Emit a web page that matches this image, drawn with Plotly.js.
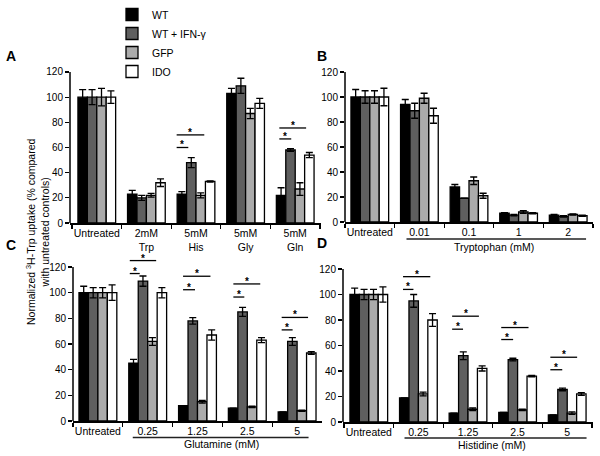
<!DOCTYPE html>
<html><head><meta charset="utf-8">
<script src="https://cdn.plot.ly/plotly-3.0.1.min.js"></script>
<style>html,body{margin:0;padding:0;background:#fff}#chart{width:600px;height:456px}</style>
</head><body><div id="chart"></div>
<script>
// ---- data ----
const seriesNames = ['WT', 'WT + IFN-γ', 'GFP', 'IDO'];
const seriesColors = ['#000000', '#5f5f5f', '#ababab', '#ffffff'];

const catsA = ['Untreated', '2mM<br>Trp', '5mM<br>His', '5mM<br>Gly', '5mM<br>Gln'];
const valsA = [[100, 23, 23, 103, 22], [100, 20, 48, 109, 58], [100, 22, 22, 87, 27], [100, 32, 33, 95, 54]];
const errsA = [[6, 3, 2, 4, 6], [6, 2, 4, 6, 1], [7, 1.5, 2, 4, 5], [5, 3, 0.5, 4, 2]];

const catsB = ['Untreated', '0.01', '0.1', '1', '2'];
const valsB = [[100, 94, 28, 7, 5.5], [100, 89, 19, 5.5, 4.5], [100, 99, 33, 8, 6], [100, 85, 21, 7, 5]];
const errsB = [[6, 4, 2, 0.5, 0.5], [5, 6, 0, 0.5, 0.5], [5, 4, 3, 1, 0.5], [7, 6, 2, 0.5, 0.5]];

const catsC = ['Untreated', '0.25', '1.25', '2.5', '5'];
const valsC = [[100, 45, 12, 10, 7], [100, 109, 78, 85, 62], [100, 62, 15, 11, 8], [100, 100, 67, 63, 53]];
const errsC = [[5, 3, 0, 0, 0], [4, 4, 2.5, 3.5, 3], [4, 3, 1, 0.5, 0.5], [6, 4, 4, 2, 1]];

const catsD = ['Untreated', '0.25', '1.25', '2.5', '5'];
const valsD = [[100, 19, 7, 7.5, 5.5], [100, 95, 52, 49, 25.5], [100, 22, 10, 9.5, 7], [100, 80, 42, 36, 22]];
const errsD = [[5, 0, 0, 0, 0], [4, 5, 3, 1, 1], [4, 1.5, 1, 0.5, 1], [6, 5, 2, 0.5, 1]];

// significance brackets: category index, start/end offset (category units), height
const sigCatA = [2, 2, 4, 4];
const sigX0A = [-0.39, -0.39, -0.32, -0.32];
const sigX1A = [-0.155, 0.167, -0.08, 0.22];
const sigYA = [60, 70, 66.8, 75.5];

const sigCatC = [1, 1, 2, 2, 3, 3, 4, 4];
const sigX0C = [-0.36, -0.36, -0.29, -0.29, -0.28, -0.28, -0.31, -0.31];
const sigX1C = [-0.16, 0.17, -0.05, 0.26, -0.06, 0.26, -0.09, 0.22];
const sigYC = [114.9, 125, 102.3, 112.8, 96.6, 106.8, 71, 80.7];

const sigCatD = [1, 1, 2, 2, 3, 3, 4, 4];
const sigX0D = [-0.31, -0.31, -0.32, -0.32, -0.33, -0.33, -0.34, -0.34];
const sigX1D = [-0.10, 0.24, -0.10, 0.22, -0.09, 0.22, -0.10, 0.20];
const sigYD = [104, 114, 72.8, 83, 64.7, 74.1, 41, 50.8];

const groupLabels = ['', 'Tryptophan (mM)', 'Glutamine (mM)', 'Histidine (mM)'];

// ---- build ----
const FONT = 'Arial, "Liberation Sans", sans-serif';
const panels = [
  {cats: catsA, vals: valsA, errs: errsA, xa: 'x', ya: 'y'},
  {cats: catsB, vals: valsB, errs: errsB, xa: 'x2', ya: 'y2'},
  {cats: catsC, vals: valsC, errs: errsC, xa: 'x3', ya: 'y3'},
  {cats: catsD, vals: valsD, errs: errsD, xa: 'x4', ya: 'y4'}
];
const traces = [];
panels.forEach((p, pi) => {
  for (let s = 0; s < 4; s++) {
    traces.push({
      type: 'bar', x: p.cats, y: p.vals[s], name: seriesNames[s],
      xaxis: p.xa, yaxis: p.ya, legendgroup: 's' + s, showlegend: pi === 0,
      marker: {color: seriesColors[s], line: {color: '#000', width: 1.3}},
      error_y: {type: 'data', array: p.errs[s], visible: true, color: '#000', thickness: 1.3, width: 3.5},
      hoverinfo: 'skip'
    });
  }
});

function xax(domain, range, anchor) {
  return {domain: domain, range: range, type: 'category', anchor: anchor, showline: true,
    linecolor: '#000', linewidth: 1.5, ticks: 'outside', tickson: 'boundaries', ticklen: 4,
    tickwidth: 1.3, tickcolor: '#000', showgrid: false, zeroline: false, fixedrange: true,
    tickangle: 0, automargin: false,
    tickfont: {family: FONT, size: 10.5, color: '#000'}};
}
function yax(domain, anchor) {
  return {domain: domain, range: [0, 135], anchor: anchor, showline: false, ticks: 'outside',
    ticklen: 4, tickwidth: 1.3, tickcolor: '#000', tickvals: [0, 20, 40, 60, 80, 100, 120],
    showgrid: false, zeroline: false, fixedrange: true, automargin: false,
    tickfont: {family: FONT, size: 10, color: '#000'}};
}

const shapes = [];
const annotations = [];
// y axis lines (to 120 only)
[['x', 'y'], ['x2', 'y2'], ['x3', 'y3'], ['x4', 'y4']].forEach(([xa, ya]) => {
  shapes.push({type: 'line', xref: xa + ' domain', yref: ya, x0: 0, x1: 0, y0: 0, y1: 120,
    line: {color: '#000', width: 1.5}});
});
function addSig(cats, x0s, x1s, ys, xa, ya) {
  for (let i = 0; i < cats.length; i++) {
    const a = cats[i] + x0s[i], b = cats[i] + x1s[i];
    shapes.push({type: 'line', xref: xa, yref: ya, x0: a, x1: b, y0: ys[i], y1: ys[i],
      line: {color: '#000', width: 1.3}});
    annotations.push({xref: xa, yref: ya, x: (a + b) / 2, y: ys[i], text: '<b>*</b>', showarrow: false,
      yanchor: 'bottom', yshift: -5, font: {family: FONT, size: 10, color: '#000'}});
  }
}
addSig(sigCatA, sigX0A, sigX1A, sigYA, 'x', 'y');
addSig(sigCatC, sigX0C, sigX1C, sigYC, 'x3', 'y3');
addSig(sigCatD, sigX0D, sigX1D, sigYD, 'x4', 'y4');

// group underline + label
const underline = [null, {x0: 0.74, x1: 4.36, dy: -17, tx: 2.5, ty: -25},
  {x0: 0.7, x1: 4.23, dy: -16.5, tx: 2.48, ty: -23}, {x0: 0.72, x1: 4.39, dy: -16, tx: 2.48, ty: -22.5}];
[['x2', 'y2'], ['x3', 'y3'], ['x4', 'y4']].forEach(([xa, ya], k) => {
  const u = underline[k + 1];
  shapes.push({type: 'line', xref: xa, yref: ya + ' domain', ysizemode: 'pixel', yanchor: 0,
    x0: u.x0, x1: u.x1, y0: u.dy, y1: u.dy, line: {color: '#222', width: 1.3}});
  annotations.push({xref: xa, yref: ya + ' domain', x: u.tx, y: 0, yshift: u.ty, yanchor: 'middle',
    text: groupLabels[k + 1], showarrow: false, font: {family: FONT, size: 10.5, color: '#000'}});
});

// panel letters
[['A', 11, 56], ['B', 322, 56], ['C', 11, 245], ['D', 322, 243]].forEach(([t, px, py]) => {
  annotations.push({xref: 'paper', yref: 'paper', x: px / 600, y: 1 - py / 456, text: '<b>' + t + '</b>',
    showarrow: false, xanchor: 'center', yanchor: 'middle', font: {family: FONT, size: 14, color: '#000'}});
});
// shared y title
annotations.push({xref: 'paper', yref: 'paper', x: 37 / 600, y: 1 - 232 / 456, textangle: -90,
  text: 'Normalized <sup>3</sup>H-Trp uptake (% compared<br>with untreated controls)',
  showarrow: false, xanchor: 'center', yanchor: 'middle', font: {family: FONT, size: 10.5, color: '#000'}});

const layout = {
  width: 600, height: 456, margin: {l: 0, r: 0, t: 0, b: 0},
  paper_bgcolor: '#fff', plot_bgcolor: 'rgba(0,0,0,0)',
  barmode: 'group', bargap: 0.24, bargroupgap: 0,
  font: {family: FONT, color: '#000'},
  showlegend: true,
  legend: {x: 112 / 600, y: 1, xanchor: 'left', yanchor: 'top', bgcolor: 'rgba(0,0,0,0)',
    font: {family: FONT, size: 10.5, color: '#000'}, traceorder: 'normal', itemclick: false, itemdoubleclick: false},
  xaxis: xax([70 / 600, 321 / 600], [-0.54, 4.52], 'y'),
  yaxis: yax([1 - 223 / 456, 1 - 53.1 / 456], 'x'),
  xaxis2: xax([345 / 600, 593 / 600], [-0.5, 4.5], 'y2'),
  yaxis2: yax([1 - 222 / 456, 1 - 53.25 / 456], 'x2'),
  xaxis3: xax([73 / 600, 322 / 600], [-0.5, 4.5], 'y3'),
  yaxis3: yax([1 - 421 / 456, 1 - 247.75 / 456], 'x3'),
  xaxis4: xax([343 / 600, 593 / 600], [-0.52, 4.52], 'y4'),
  yaxis4: yax([1 - 422 / 456, 1 - 249.9 / 456], 'x4'),
  shapes: shapes, annotations: annotations
};
Plotly.newPlot('chart', traces, layout, {displayModeBar: false, staticPlot: true});
</script></body></html>
